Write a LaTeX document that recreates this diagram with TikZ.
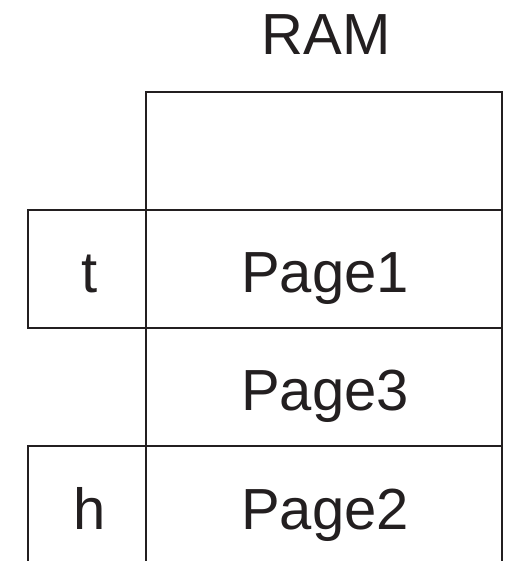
\documentclass[tikz,border=0pt]{standalone}
\usepackage{fontspec}
\setmainfont{Liberation Sans}
\definecolor{ink}{HTML}{231F20}
\begin{document}
\begin{tikzpicture}[x=1pt,y=-1pt,
  rule/.style={draw=ink,line width=2.9pt,line cap=rect},
  lbl/.style={text=ink,font=\fontsize{58}{60}\selectfont,anchor=base,inner sep=0pt}]
\useasboundingbox (0,0) rectangle (506,561);
% grid corners
\coordinate (tl) at (146,92);
\coordinate (tr) at (502,92);
\coordinate (bl) at (146,561);
\coordinate (br) at (502,561);
\coordinate (r1l) at (28,210);  \coordinate (r1r) at (502,210);
\coordinate (r2l) at (28,328);  \coordinate (r2r) at (502,328);
\coordinate (r3l) at (28,446);  \coordinate (r3r) at (502,446);
\coordinate (hb) at (28,561);
% RAM column
\draw[rule] (bl) -- (tl) -- (tr) -- (br);
\draw[rule] (r1l) -- (r1r);
\draw[rule] (r2l) -- (r2r);
\draw[rule] (r3l) -- (r3r);
% pointer column
\draw[rule] (r1l) -- (r2l);
\draw[rule] (r3l) -- (hb);
% labels
\node[lbl] (ram) at (326,55) {RAM};
\node[lbl] (p1) at (325,292) {Page1};
\node[lbl] (p3) at (325,410) {Page3};
\node[lbl] (p2) at (325,529) {Page2};
\node[lbl] (t) at (90,292) {t};
\node[lbl] (h) at (90,529) {h};
\end{tikzpicture}
\end{document}
